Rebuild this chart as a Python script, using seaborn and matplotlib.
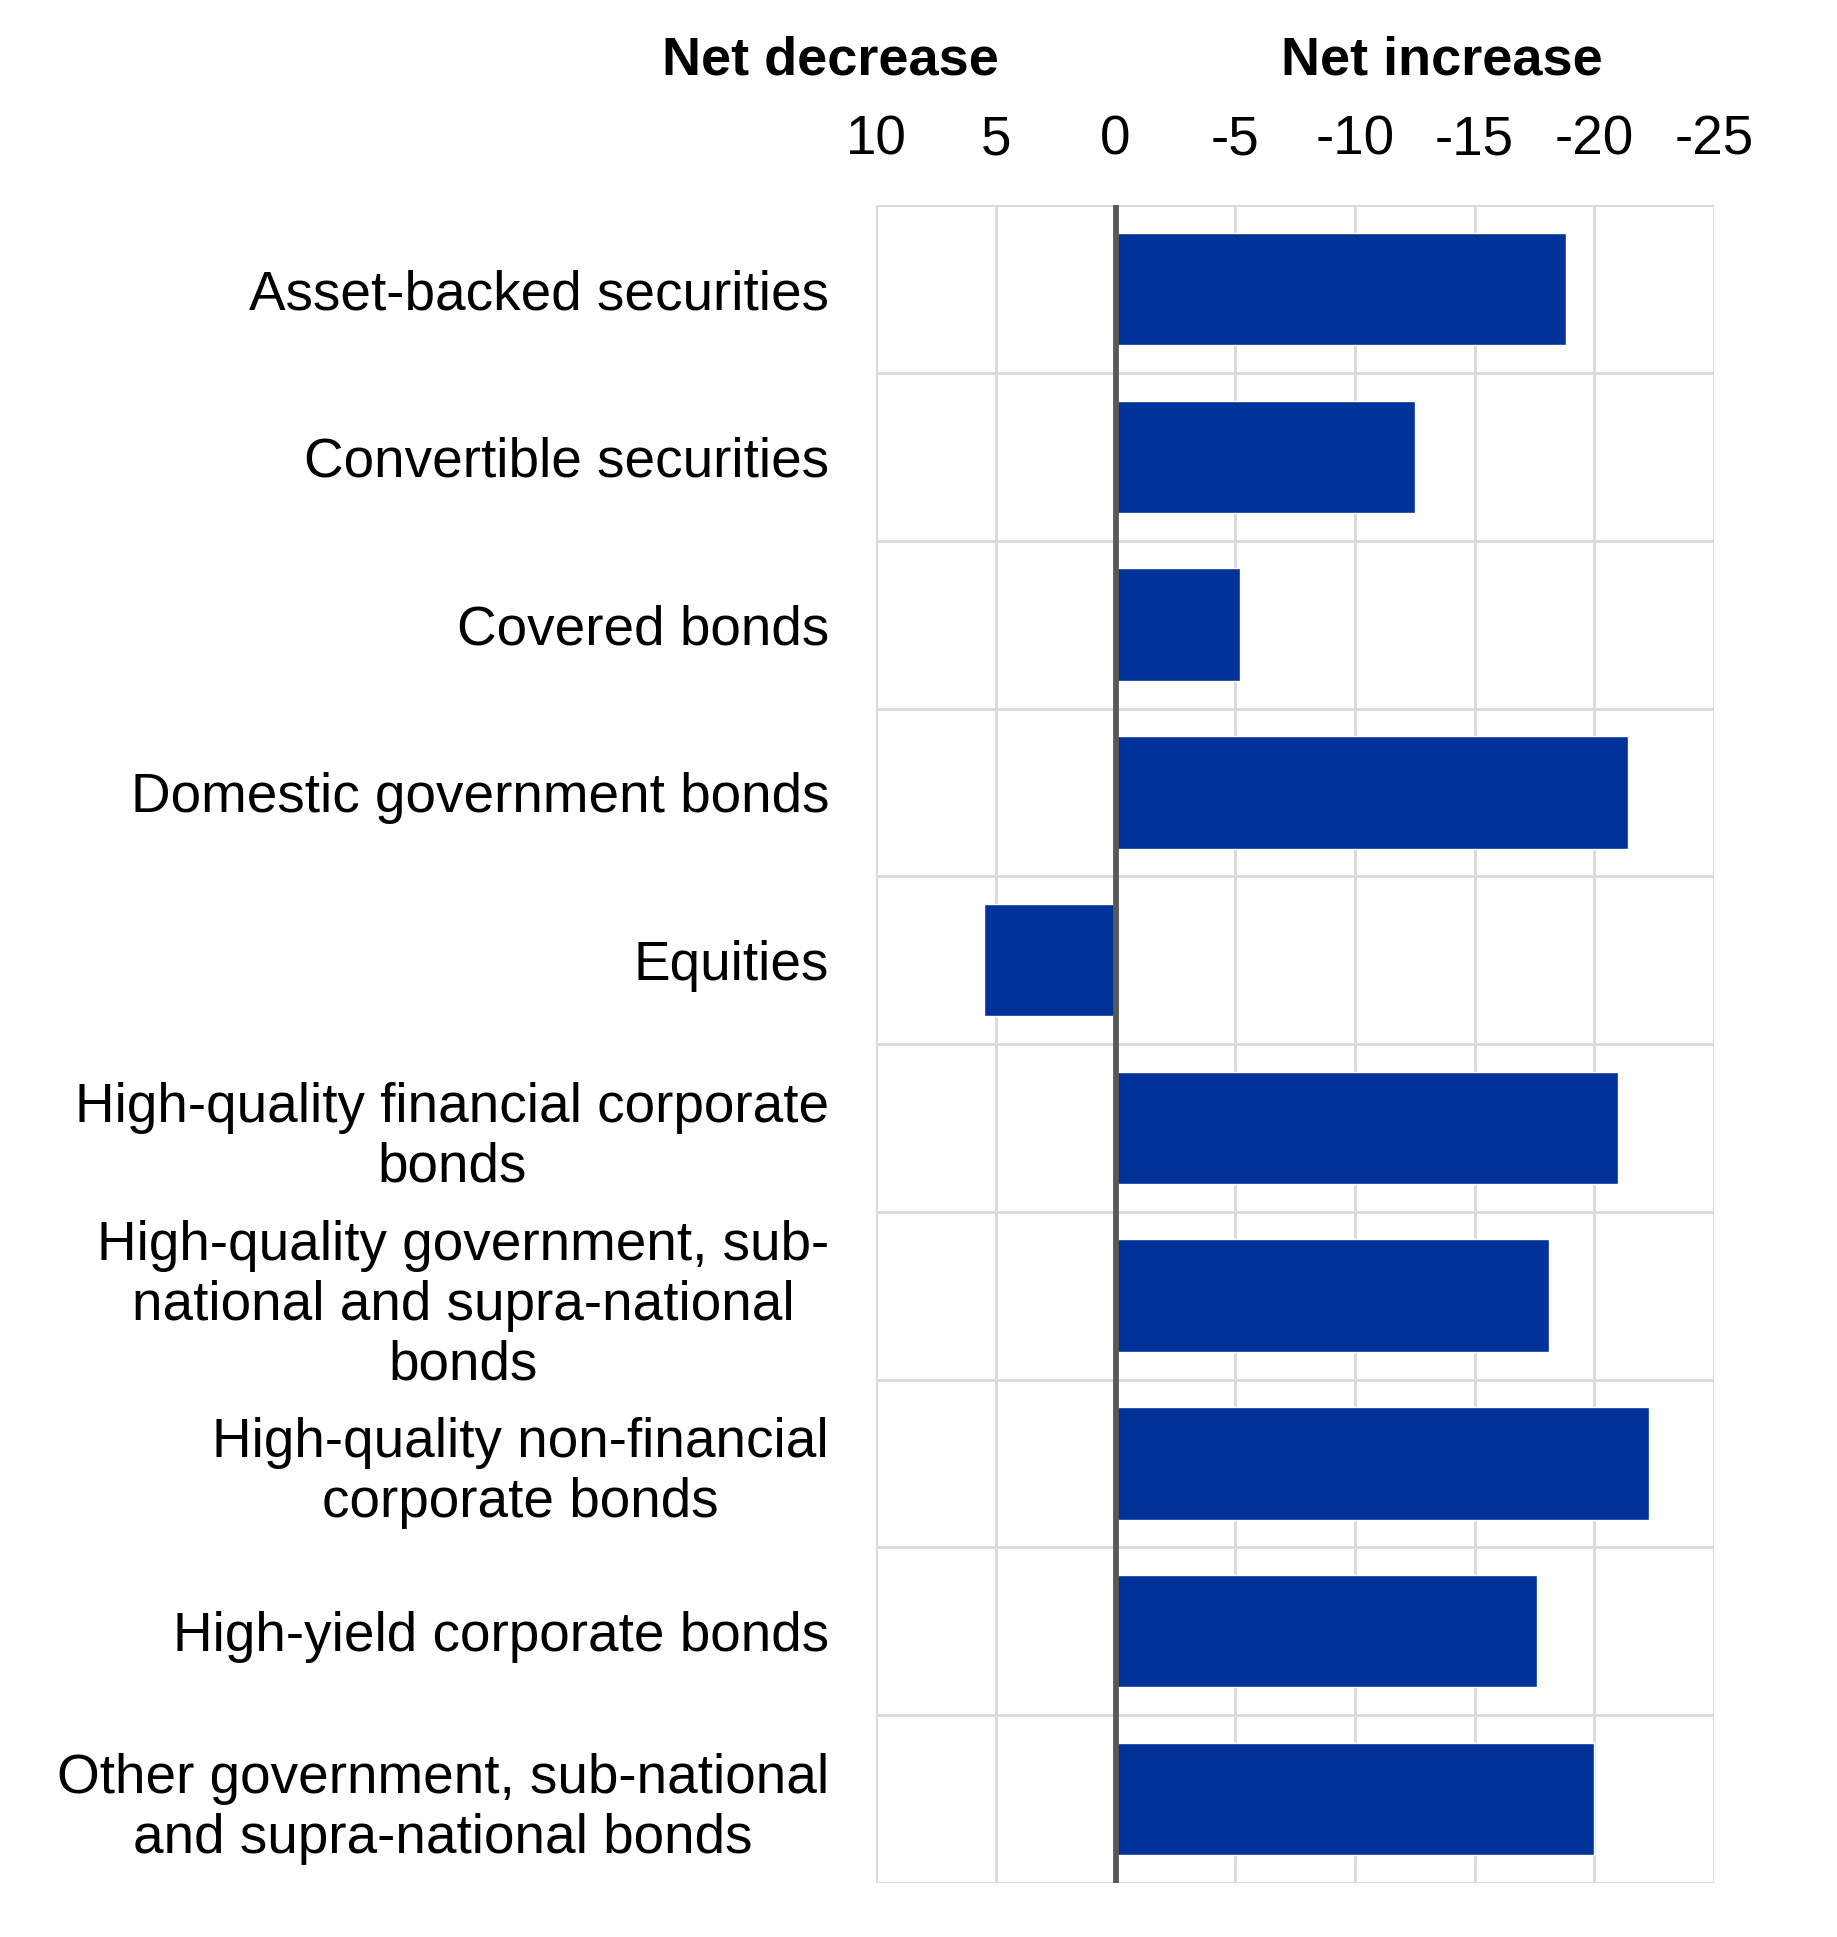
import matplotlib
matplotlib.use("Agg")
import matplotlib.pyplot as plt
import matplotlib.ticker as mticker
import seaborn as sns
import pandas as pd

categories = [
    "Asset-backed securities",
    "Convertible securities",
    "Covered bonds",
    "Domestic government bonds",
    "Equities",
    "High-quality financial corporate\nbonds",
    "High-quality government, sub-\nnational and supra-national\nbonds",
    "High-quality non-financial\ncorporate bonds",
    "High-yield corporate bonds",
    "Other government, sub-national\nand supra-national bonds",
]
values = [-18.8, -12.5, -5.2, -21.4, 5.5, -21.0, -18.1, -22.3, -17.6, -20.0]
x_ticks = [10, 5, 0, -5, -10, -15, -20, -25]

sns.set_theme(style="white")
plt.rcParams["font.family"] = ["Liberation Sans", "DejaVu Sans"]
plt.rcParams["text.color"] = "black"

df = pd.DataFrame({"category": categories, "value": values})

fig = plt.figure(figsize=(18.37, 19.37), dpi=100)
ax = fig.add_axes([0.477, 0.028, 0.456, 0.866])

sns.barplot(data=df, x="value", y="category", orient="h", color="#003299",
            width=0.67, saturation=1, ax=ax, zorder=3)

ax.set_xlim(10, -25)
ax.set_ylim(len(categories) - 0.5, -0.5)
ax.set_xticks(x_ticks)
ax.xaxis.set_major_formatter(mticker.FuncFormatter(lambda v, _: f"{int(v)}"))
ax.xaxis.tick_top()
ax.tick_params(axis="x", length=0, pad=28, labelsize=39.5, colors="black")
ax.tick_params(axis="y", length=0, pad=34, labelsize=39.5, colors="black")
for lab in ax.get_yticklabels():
    lab.set_multialignment("center")

# gridlines: vertical at ticks, horizontal between categories
ax.set_yticks([i + 0.5 for i in range(-1, len(categories))], minor=True)
ax.grid(axis="x", which="major", color="#d9d9d9", lw=2.0, zorder=0)
ax.grid(axis="y", which="minor", color="#d9d9d9", lw=2.0, zorder=0)
ax.grid(axis="y", which="major", visible=False)
ax.tick_params(axis="y", which="minor", length=0)
for s in ax.spines.values():
    s.set_visible(False)
ax.axvline(0, color="#595959", lw=4.2, zorder=4)
ax.set_xlabel("")
ax.set_ylabel("")

fig.text(0.452, 0.969, "Net decrease", ha="center", va="center",
         fontsize=39, fontweight="bold", color="black")
fig.text(0.785, 0.969, "Net increase", ha="center", va="center",
         fontsize=39, fontweight="bold", color="black")

fig.savefig("out.png", dpi=100)
